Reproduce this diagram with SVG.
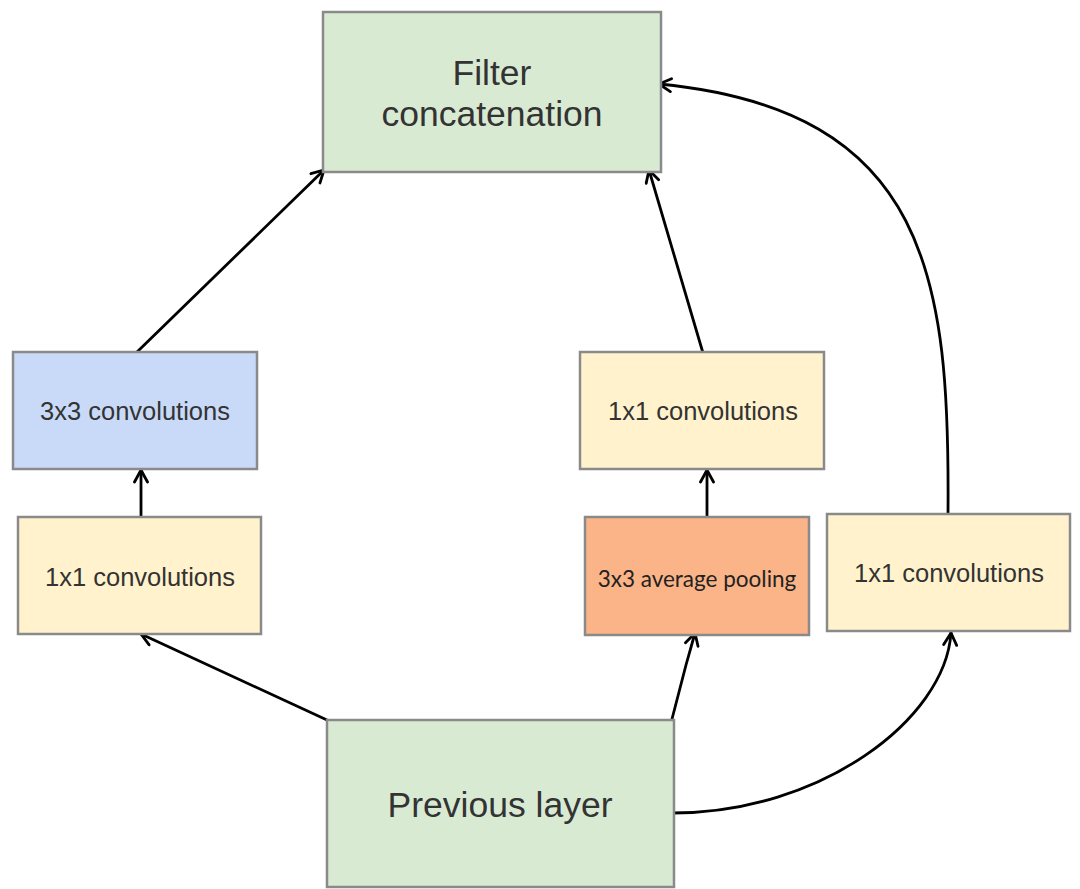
<svg xmlns="http://www.w3.org/2000/svg" width="1080" height="889" viewBox="0 0 1080 889">
  <defs>
    <style>
      .box { stroke: #8a8a8a; stroke-width: 2.5; }
      .green { fill: #d9ead3; }
      .blue { fill: #c9daf8; }
      .yellow { fill: #fff2cc; }
      .orange { fill: #fbb487; }
      .lbl { font-family: "Liberation Sans", Arial, sans-serif; fill: #333333; text-anchor: middle; }
      .big { font-size: 35.5px; }
      .mid { font-size: 25.5px; }
      .pool { font-family: Lato, "Open Sans", sans-serif; font-size: 22.5px; fill: #222222; text-anchor: middle; }
      .edge { fill: none; stroke: #000000; stroke-width: 2.8; stroke-linecap: round; }
    </style>
    <marker id="arrow" viewBox="-14 -8 16 16" markerWidth="16" markerHeight="16" refX="0" refY="0" orient="auto" markerUnits="userSpaceOnUse">
      <path d="M-12,-6.5 L0,0 L-12,6.5" fill="none" stroke="#000000" stroke-width="2.8" stroke-linecap="round" stroke-linejoin="miter"/>
    </marker>
  </defs>

  <rect width="1080" height="889" fill="#ffffff"/>

  <!-- connectors -->
  <g id="connectors">
    <path class="edge" d="M137,352 L324,170" marker-end="url(#arrow)"/>
    <path class="edge" d="M141,519 L141,470" marker-end="url(#arrow)"/>
    <path class="edge" d="M327,720 L141,634" marker-end="url(#arrow)"/>
    <path class="edge" d="M672,719 L686,665 L695,633" marker-end="url(#arrow)"/>
    <path class="edge" d="M707,517 L707,470" marker-end="url(#arrow)"/>
    <path class="edge" d="M703,353 L649,170" marker-end="url(#arrow)"/>
    <path class="edge" d="M673,813 C820,813 945,720 951,633" marker-end="url(#arrow)"/>
    <path class="edge" d="M948,514 C950,280 930,110 659,84" marker-end="url(#arrow)"/>
  </g>

  <!-- nodes -->
  <g id="filter-concat">
    <rect class="box green" x="323" y="12" width="338" height="160"/>
    <text class="lbl big" x="492" y="85">Filter</text>
    <text class="lbl big" x="492" y="126">concatenation</text>
  </g>

  <g id="conv3x3">
    <rect class="box blue" x="13" y="352" width="244" height="117"/>
    <text class="lbl mid" x="135" y="420">3x3 convolutions</text>
  </g>

  <g id="conv1x1-left">
    <rect class="box yellow" x="18" y="517" width="243" height="117"/>
    <text class="lbl mid" x="140" y="586">1x1 convolutions</text>
  </g>

  <g id="conv1x1-pool">
    <rect class="box yellow" x="580" y="352" width="244" height="117"/>
    <text class="lbl mid" x="703" y="420">1x1 convolutions</text>
  </g>

  <g id="avg-pool">
    <rect class="box orange" x="585" y="517" width="224" height="118"/>
    <text class="pool" x="697" y="587">3x3 average pooling</text>
  </g>

  <g id="conv1x1-right">
    <rect class="box yellow" x="827" y="514" width="243" height="117"/>
    <text class="lbl mid" x="949" y="582">1x1 convolutions</text>
  </g>

  <g id="previous-layer">
    <rect class="box green" x="327" y="720" width="347" height="167"/>
    <text class="lbl big" x="500" y="817">Previous layer</text>
  </g>
</svg>
